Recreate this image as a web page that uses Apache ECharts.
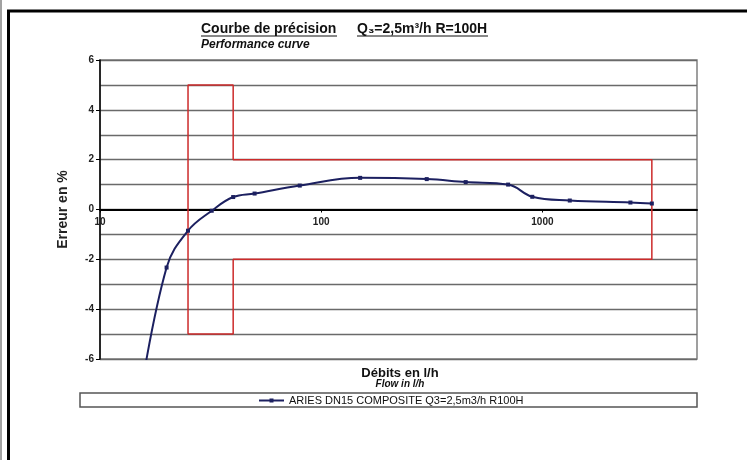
<!DOCTYPE html>
<html>
<head>
<meta charset="utf-8">
<script src="https://cdn.jsdelivr.net/npm/echarts@6/dist/echarts.min.js"></script>
<style>
html,body{margin:0;padding:0;background:#fff;}
#chart{width:747px;height:460px;}
</style>
</head>
<body>
<div id="chart"></div>
<script>
// Measured curve (flow l/h, error %)
const flows = [15, 20, 25, 32, 40, 50, 80, 150, 300, 450, 700, 900, 1330, 2500, 3125];
const errors = [-7.8, -2.33, -0.85, -0.05, 0.5, 0.64, 0.96, 1.27, 1.22, 1.1, 1.0, 0.51, 0.36, 0.28, 0.24];
// Tolerance envelope (red)
const limitFlows = [25, 25, 40, 40, 3125, 3125, 40, 40, 25];
const limitErrors = [-5, 5, 5, 2, 2, -2, -2, -5, -5];
const xTickLabels = [10, 100, 1000];
const seriesName = 'ARIES DN15 COMPOSITE Q3=2,5m3/h R100H';

const F = '"Liberation Sans", Arial, sans-serif';
const chart = echarts.init(document.getElementById('chart'));
chart.setOption({
  animation: false,
  backgroundColor: '#fff',
  grid: {left: 100, right: 50, top: 60, bottom: 101, show: true, borderColor: '#808080', borderWidth: 1.5, backgroundColor: 'transparent'},
  xAxis: {
    type: 'log', logBase: 10, min: 10, max: 5000,
    position: 'bottom', offset: -149.5,
    axisLine: {onZero: false, lineStyle: {color: '#000', width: 2}},
    axisTick: {show: true, length: 3, lineStyle: {color: '#000'}},
    axisLabel: {
      margin: 8, fontFamily: F, fontWeight: 'bold', fontSize: 10, color: '#222',
      showMaxLabel: false,
      formatter: v => xTickLabels.indexOf(Math.round(v)) >= 0 ? String(Math.round(v)) : ''
    },
    splitLine: {show: false}
  },
  yAxis: {
    type: 'value', min: -6, max: 6, interval: 2,
    name: 'Erreur en %', nameLocation: 'middle', nameRotate: 90, nameGap: 30,
    nameTextStyle: {fontFamily: F, fontWeight: 'bold', fontSize: 14, color: '#222'},
    axisLine: {show: true, lineStyle: {color: '#000', width: 1.5}},
    axisTick: {show: true, length: 4, lineStyle: {color: '#000'}},
    axisLabel: {margin: 6, fontFamily: F, fontWeight: 'bold', fontSize: 10, color: '#222'},
    splitLine: {show: true, lineStyle: {color: '#6a6a6a', width: 1.4}},
    minorTick: {show: false, splitNumber: 2},
    minorSplitLine: {show: true, lineStyle: {color: '#6a6a6a', width: 1.4}}
  },
  legend: {
    data: [seriesName], left: 258, top: 395, padding: 0,
    itemWidth: 25, itemHeight: 5, itemGap: 5,
    textStyle: {fontFamily: F, fontSize: 11, color: '#111'}
  },
  series: [
    {
      name: seriesName, type: 'line', smooth: 0.4,
      data: flows.map((f, i) => [f, errors[i]]),
      symbol: 'rect', symbolSize: 4, showSymbol: true,
      itemStyle: {color: '#1c2060'},
      lineStyle: {color: '#1c2060', width: 2},
      z: 5
    },
    {
      name: 'limits', type: 'line',
      data: limitFlows.map((f, i) => [f, limitErrors[i]]),
      showSymbol: false, symbol: 'none',
      lineStyle: {color: '#cc2a2a', width: 1.5},
      z: 4
    }
  ],
  graphic: [
    {type: 'text', x: 201, y: 29, style: {text: 'Courbe de précision', font: 'bold 14px ' + F, fill: '#111', verticalAlign: 'middle'}},
    {type: 'text', x: 357, y: 29, style: {text: 'Q₃=2,5m³/h R=100H', font: 'bold 14px ' + F, fill: '#111', verticalAlign: 'middle'}},
    {type: 'line', shape: {x1: 201, y1: 36, x2: 337, y2: 36}, style: {stroke: '#111', lineWidth: 1}},
    {type: 'line', shape: {x1: 357, y1: 36, x2: 488, y2: 36}, style: {stroke: '#111', lineWidth: 1}},
    {type: 'text', x: 201, y: 45, style: {text: 'Performance curve', font: 'italic bold 12px ' + F, fill: '#111', verticalAlign: 'middle'}},
    {type: 'text', x: 400, y: 373, style: {text: 'Débits en l/h', font: 'bold 13px ' + F, fill: '#111', align: 'center', verticalAlign: 'middle'}},
    {type: 'text', x: 400, y: 384, style: {text: 'Flow in l/h', font: 'italic bold 10px ' + F, fill: '#111', align: 'center', verticalAlign: 'middle'}},
    {type: 'rect', shape: {x: 80, y: 393, width: 617, height: 14}, style: {fill: 'none', stroke: '#555', lineWidth: 1.5}},
    {type: 'line', shape: {x1: 8.5, y1: 11, x2: 8.5, y2: 460}, style: {stroke: '#000', lineWidth: 3}},
    {type: 'line', shape: {x1: 7, y1: 11, x2: 747, y2: 11}, style: {stroke: '#000', lineWidth: 3}},
    {type: 'line', shape: {x1: 1, y1: 0, x2: 1, y2: 460}, style: {stroke: '#444', lineWidth: 1}}
  ]
});
</script>
</body>
</html>
